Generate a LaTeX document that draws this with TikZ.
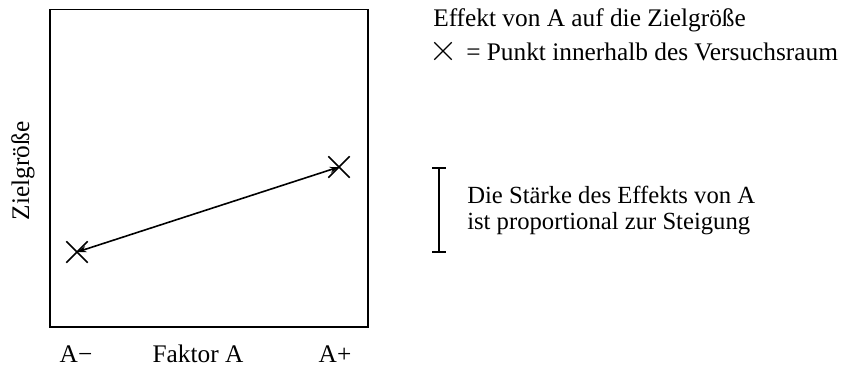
\documentclass[tikz,border=0pt]{standalone}
\usepackage{fontspec}
\setmainfont{Liberation Serif}
\usetikzlibrary{arrows.meta,shapes.misc}
\tikzset{
  lbl/.style={inner sep=0pt, font=\fontsize{19}{20}\selectfont},
  xmark/.style={cross out, draw, line width=1.1pt, minimum size=15pt, inner sep=0pt},
  frame/.style={line width=1.4pt},
}
\begin{document}
\begin{tikzpicture}[x=0.75pt,y=-0.75pt]
\useasboundingbox (0,0) rectangle (853,369);
\draw[frame] (50,9.5) rectangle (368,327);
\node[xmark] (lm) at (77,252) {};
\node[xmark] (rm) at (339,167) {};
\draw[line width=1.2pt, {Stealth[length=7pt,width=4.5pt]}-{Stealth[length=7pt,width=4.5pt]}] (lm.center) -- (rm.center);
\node[lbl, rotate=90] (zg) at (23,171) {Zielgröße};
\node[lbl, anchor=base] (am) at (76,362) {A−};
\node[lbl, anchor=base] (fa) at (198,362) {Faktor A};
\node[lbl, anchor=base] (ap) at (335,362) {A+};
\node[lbl, anchor=base west] (t1) at (433,26) {Effekt von A auf die Zielgröße};
\node[xmark, line width=1pt, minimum size=12pt] (lx) at (443,51) {};
\node[lbl, anchor=base west] (t2) at (466,60) {= Punkt innerhalb des Versuchsraum};
\coordinate (bt) at (439,168);
\coordinate (bb) at (439,252);
\draw[line width=1.3pt] (bt) -- (bb);
\draw[line width=1pt] ([xshift=-5]bt) -- ([xshift=5]bt) ([xshift=-5]bb) -- ([xshift=5]bb);
\node[lbl, anchor=base west, align=left, font=\fontsize{18.5}{19.5}\selectfont] (t3) at (467,229) {Die Stärke des Effekts von A\\ist proportional zur Steigung};
\end{tikzpicture}
\end{document}
